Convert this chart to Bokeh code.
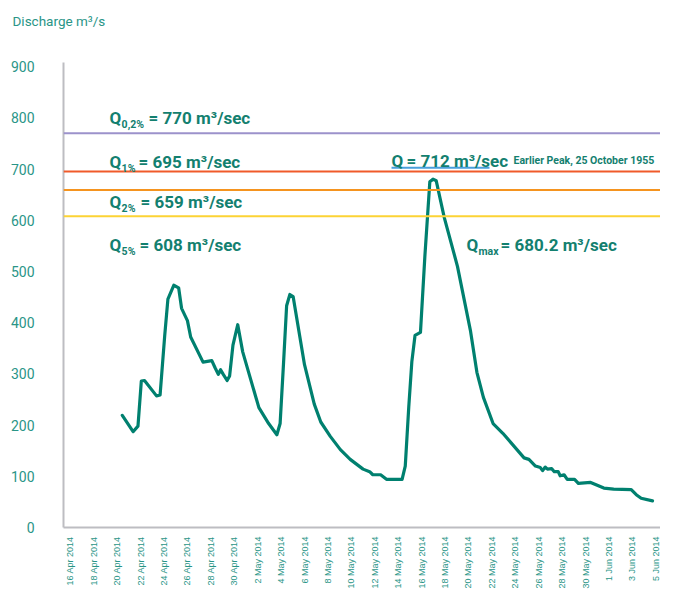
import pandas as pd
from math import pi
from bokeh.plotting import figure
from bokeh.models import Range1d, FixedTicker, Span, Label, Title
from bokeh.embed import file_html
from bokeh.resources import INLINE

# ---------------- data ----------------
TIMES = [
    "2014-04-20 10:30", "2014-04-21 08:40", "2014-04-21 18:40", "2014-04-22 01:30",
    "2014-04-22 08:00", "2014-04-23 08:40", "2014-04-23 16:00", "2014-04-24 01:30",
    "2014-04-24 08:00", "2014-04-24 20:00", "2014-04-25 06:00", "2014-04-25 12:00",
    "2014-04-26 00:00", "2014-04-26 06:40", "2014-04-27 08:00", "2014-04-28 02:00",
    "2014-04-28 08:40", "2014-04-28 15:20", "2014-04-28 20:00", "2014-04-29 01:30",
    "2014-04-29 09:20", "2014-04-29 14:30", "2014-04-29 21:20", "2014-04-30 07:10",
    "2014-04-30 17:20", "2014-05-01 06:40", "2014-05-02 02:30", "2014-05-02 22:30",
    "2014-05-03 15:20", "2014-05-03 22:00", "2014-05-04 04:50", "2014-05-04 11:20",
    "2014-05-04 18:00", "2014-05-05 00:40", "2014-05-06 00:00", "2014-05-06 20:00",
    "2014-05-07 09:20", "2014-05-08 04:50", "2014-05-09 01:30", "2014-05-09 21:40",
    "2014-05-11 00:00", "2014-05-11 13:30", "2014-05-11 20:00", "2014-05-12 12:00",
    "2014-05-13 00:00", "2014-05-14 08:00", "2014-05-14 14:30", "2014-05-14 21:40",
    "2014-05-15 04:00", "2014-05-15 10:30", "2014-05-15 21:40", "2014-05-16 06:40",
    "2014-05-16 16:50", "2014-05-16 23:20", "2014-05-17 06:00", "2014-05-17 22:30",
    "2014-05-19 01:30", "2014-05-20 04:00", "2014-05-20 17:20", "2014-05-21 06:40",
    "2014-05-22 02:30", "2014-05-22 22:30", "2014-05-24 18:00", "2014-05-25 04:00",
    "2014-05-25 17:20", "2014-05-26 03:20", "2014-05-26 08:00", "2014-05-26 13:30",
    "2014-05-26 18:00", "2014-05-27 02:30", "2014-05-27 08:00", "2014-05-27 16:00",
    "2014-05-27 20:00", "2014-05-28 04:00", "2014-05-28 10:30", "2014-05-29 01:30",
    "2014-05-29 09:20", "2014-05-30 10:30", "2014-05-31 13:30", "2014-06-01 09:40",
    "2014-06-02 21:40", "2014-06-03 08:00", "2014-06-03 18:00", "2014-06-04 17:20",
]
DISCHARGE = [
    219, 187, 198, 286,
    287, 257, 259, 375,
    446, 473, 468, 428,
    404, 372, 323, 326,
    312, 299, 308, 299,
    287, 296, 356, 396,
    343, 299, 234, 203,
    181, 203, 318, 433,
    455, 451, 318, 241,
    206, 178, 152, 133,
    114, 109, 103, 103,
    94, 94, 120, 235,
    324, 375, 381, 529,
    675, 680.2, 677, 605,
    510, 385, 303, 254,
    203, 184, 136, 133,
    120, 117, 111, 118,
    114, 115, 109, 109,
    101, 103, 94, 94,
    86, 88, 77, 75,
    74, 64, 57, 52,
]
TICK_LABELS = [
    "16 Apr 2014", "18 Apr 2014", "20 Apr 2014", "22 Apr 2014", "24 Apr 2014",
    "26 Apr 2014", "28 Apr 2014", "30 Apr 2014", "2 May 2014", "4 May 2014",
    "6 May 2014", "8 May 2014", "10 May 2014", "12 May 2014", "14 May 2014",
    "16 May 2014", "18 May 2014", "20 May 2014", "22 May 2014", "24 May 2014",
    "26 May 2014", "28 May 2014", "30 May 2014", "1 Jun 2014", "3 Jun 2014",
    "5 Jun 2014",
]
Y_TICKS = [0, 100, 200, 300, 400, 500, 600, 700, 800, 900]
THRESHOLD_SUBS = ["0,2%", "1%", "2%", "5%"]
THRESHOLD_VALUES = [770, 695, 659, 608]
EARLIER_PEAK = 712
EARLIER_PEAK_NOTE = "Earlier Peak, 25 October 1955"
Q_MAX = 680.2
Y_TITLE = "Discharge m³/s"

# ---------------- style ----------------
FONT = "Roboto"
XFONT = "Liberation Sans"
LINE_COLOR = "#00806f"
TEXT_COLOR = "#13806f"
TICK_COLOR = "#2a9587"
AXIS_COLOR = "#bdbdc2"
THRESHOLD_COLORS = ["#9c92cb", "#f05a2a", "#f5941f", "#fcd335"]


def ms(s):
    return pd.Timestamp(s).value // 10**6


x_vals = pd.to_datetime(TIMES)
tick_ms = [ms(pd.to_datetime(t, format="%d %b %Y")) for t in TICK_LABELS]

p = figure(
    width=660, height=591,
    x_axis_type="datetime",
    x_range=Range1d(ms("2014-04-15 10:00"), ms("2014-06-05 09:40")),
    y_range=Range1d(0, 908),
    output_backend="svg", toolbar_location=None,
    min_border_left=63, min_border_right=0, min_border_top=62, min_border_bottom=0,
)
p.outline_line_color = None
p.grid.visible = False
p.background_fill_color = "white"
p.border_fill_color = "white"

# spacer between the frame and the axis title (nearest to the frame)
p.add_layout(Title(text="\u00a0", text_font_size="1px", standoff=17), "above")
# axis title, top-left
p.add_layout(Title(text=Y_TITLE, align="left", offset=-51, vertical_align="top",
                   text_font=FONT, text_font_size="13.5px", text_font_style="normal",
                   text_color=TICK_COLOR, standoff=24), "above")

# axes
p.yaxis.ticker = FixedTicker(ticks=Y_TICKS)
p.yaxis.axis_line_color = AXIS_COLOR
p.yaxis.axis_line_width = 2
p.yaxis.major_tick_line_color = None
p.yaxis.minor_tick_line_color = None
p.yaxis.major_label_standoff = 23
p.yaxis.major_label_text_font = FONT
p.yaxis.major_label_text_font_size = "14px"
p.yaxis.major_label_text_color = TICK_COLOR

p.xaxis.ticker = FixedTicker(ticks=tick_ms)
p.xaxis.major_label_overrides = {t: lab for t, lab in zip(tick_ms, TICK_LABELS)}
p.xaxis.major_label_orientation = pi / 2
p.xaxis.axis_line_color = AXIS_COLOR
p.xaxis.axis_line_width = 2
p.xaxis.major_tick_line_color = None
p.xaxis.minor_tick_line_color = None
p.xaxis.major_label_standoff = 3
p.xaxis.major_label_text_font = XFONT
p.xaxis.major_label_text_font_size = "9px"
p.xaxis.major_label_text_color = TICK_COLOR

# threshold lines
for v, c in zip(THRESHOLD_VALUES, THRESHOLD_COLORS):
    p.add_layout(Span(location=v, dimension="width", line_color=c, line_width=2))

# discharge hydrograph
p.line(x_vals, DISCHARGE, line_color=LINE_COLOR, line_width=3.2,
       line_join="round", line_cap="round")


def q_label(x, y, sub, rest, rest_dx):
    common = dict(x=x, y=y, text_font=FONT, text_color=TEXT_COLOR,
                  text_baseline="alphabetic", text_align="left")
    p.add_layout(Label(text="Q", text_font_size="17px", text_font_style="bold", **common))
    if sub:
        p.add_layout(Label(text=sub, x_offset=12, y_offset=-6, text_font_size="10.5px",
                           text_font_style="bold", **common))
    p.add_layout(Label(text=rest, x_offset=rest_dx, text_font_size="17px",
                       text_font_style="bold", **common))


LEFT_X = ms("2014-04-19 08:30")
LABEL_BASELINES = [799, 713, 635, 551]
REST_DX = [39, 29, 31, 30]
for sub, v, yb, dx in zip(THRESHOLD_SUBS, THRESHOLD_VALUES, LABEL_BASELINES, REST_DX):
    q_label(LEFT_X, yb, sub, f"= {v} m³/sec", dx)

# earlier peak
PEAK_X = ms("2014-05-13 10:20")
q_label(PEAK_X, 715, None, f"= {EARLIER_PEAK} m³/sec", 15)
p.segment(x0=[PEAK_X], y0=[702.5], x1=[ms("2014-05-21 19:10")], y1=[702.5],
          line_color="#4aa0dc", line_width=2)
p.add_layout(Label(x=ms("2014-05-23 20:30"), y=717, text=EARLIER_PEAK_NOTE,
                   text_font=FONT, text_font_size="10.5px", text_font_style="bold",
                   text_color=TEXT_COLOR, text_baseline="alphabetic"))

# Qmax
q_label(ms("2014-05-19 20:00"), 551, "max", f"= {Q_MAX} m³/sec", 34)

open("out.html", "w").write(file_html(p, INLINE))
